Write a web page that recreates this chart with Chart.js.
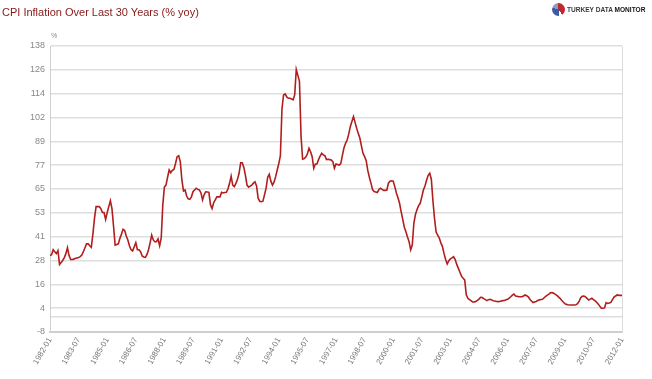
<!DOCTYPE html>
<html>
<head>
<meta charset="utf-8">
<script src="https://cdn.jsdelivr.net/npm/chart.js@4.4.1/dist/chart.umd.min.js"></script>
<style>
  html, body { margin: 0; padding: 0; background: #fff; }
  #wrap { position: relative; width: 652px; height: 379px; overflow: hidden; }
  #c { position: absolute; left: 0; top: 0; }
  #title { position: absolute; left: 2px; top: 6px; font-family: 'Liberation Sans', Arial, sans-serif; font-size: 11px; color: #861818; white-space: nowrap; }
  #pct { position: absolute; left: 51px; top: 32px; font-family: 'Liberation Sans', Arial, sans-serif; font-size: 7px; color: #888; }
  #logo { position: absolute; left: 552px; top: 3px; height: 14px; white-space: nowrap; }
  #logo .ic { position: absolute; left: 0; top: 0; width: 13px; height: 13px; border-radius: 50%;
    background: conic-gradient(#c0282d 0 40%, #ffffff 40% 48%, #3b5ba5 48% 80%, #8a9cc8 80% 100%); }
  #logo .tx { position: absolute; left: 15px; top: 2px; font-family: 'Liberation Sans', Arial, sans-serif; font-weight: bold; font-size: 8px; color: #3a3a3a; transform: scaleX(0.82); transform-origin: 0 0; }
  #logo .tx b { color: #111; }
</style>
</head>
<body>
<div id="wrap">
  <canvas id="c" width="652" height="379"></canvas>
  <div id="title">CPI Inflation Over Last 30 Years (% yoy)</div>
  <div id="pct">%</div>
  <div id="logo"><div class="ic"></div><div class="tx">TURKEY DATA <b>MONITOR</b></div></div>
</div>
<script>
// Monthly CPI inflation (% yoy)
const cpi1982to1991 = [
  31, 31.5, 34, 33, 32, 33.5, 26.5, 27.5, 28.5, 30, 32, 35,
  31, 29, 29, 29.2, 29.6, 29.8, 30, 30.5, 31.3, 33, 35, 37,
  37, 36, 35.2, 42, 50, 56, 56, 56, 55, 53, 53, 49.5,
  53, 56, 59, 55, 46, 36.4, 36.7, 37, 39.8, 42, 44.4, 43.8,
  41, 39, 36, 34, 33.4, 35.5, 37.6, 34, 34, 33, 30.8, 30.3,
  30.1, 31.5, 34, 37.5, 41.5, 39, 38.1, 38.1, 39.5, 36, 40, 57,
  66, 67, 71, 74.7, 73.3, 74.5, 75, 78, 81.5, 82, 79, 69.6,
  64, 64.5, 61.4, 60, 59.7, 61, 63.6, 64.5, 65.4, 64.8, 64.5, 63,
  59.4, 62, 63.6, 63.5, 63.3, 57, 55, 58, 59.4, 61, 61, 61,
  63.3, 63, 63.2, 63.3, 65, 67.9, 71.6, 67, 66.2, 67.9, 70, 73
];
const cpi1992to2001 = [
  78.4, 78.4, 76, 72, 67, 65.9, 66.5, 67, 68, 68.7, 66.6, 60.3,
  58.7, 58.5, 58.8, 62, 65.4, 71, 72.5, 69, 67, 68.5, 71.3, 74.7,
  78, 82, 106, 113, 113.5, 112, 111.3, 111.3, 111, 110.5, 113, 126,
  123, 120, 92, 80.2, 80.5, 81.3, 83, 85.8, 84, 81.5, 75.6, 77.8,
  77.8, 80, 81.8, 83.2, 82.4, 82, 80, 80.2, 80, 79.8, 79, 75.6,
  77.8, 77.5, 77.2, 78, 82, 86, 88.3, 90, 93, 96.8, 99.5, 102,
  99, 96, 93.4, 91, 87, 83.2, 81.5, 79.5, 74.5, 71, 68, 64.7,
  63.7, 63.5, 63.2, 64.7, 65.4, 64.8, 64.3, 64.3, 64.5, 68, 69, 69.2,
  69, 66.2, 63, 60.5, 57.7, 53.5, 49.5, 45.5, 43.2, 40.5, 38.1, 33.9,
  36.4, 47.5, 52, 54.5, 56.5, 57.7, 61, 64.5, 66.5, 69.5, 72, 73
];
const cpi2002to2012 = [
  70, 59, 50, 43, 41.5, 40, 37.5, 35.6, 32, 29, 26.7, 28.4,
  29.3, 29.8, 30.4, 29, 26.5, 24.5, 22.5, 20.5, 19.4, 18.6, 11, 9.2,
  8.5, 8, 7.3, 7.3, 7.6, 8.1, 8.8, 9.7, 9.6, 9, 8.5, 8,
  8.5, 8.7, 8.3, 8, 7.8, 7.6, 7.5, 7.6, 7.8, 8, 8.1, 8.4,
  8.7, 9.3, 10, 10.8, 11.4, 10.4, 10.2, 10, 10, 10, 10.4, 10.9,
  10.5, 10, 8.7, 7.8, 7, 7.3, 7.6, 8.1, 8.4, 8.6, 8.7, 9.5,
  10.2, 10.8, 11.3, 12, 12.1, 11.8, 11.2, 10.7, 9.9, 9.2, 8.2, 7.3,
  6.5, 6.1, 5.9, 5.8, 5.8, 5.8, 5.8, 5.9, 6.5, 7.6, 9.5, 10.3,
  10.4, 9.9, 9.2, 8.3, 8.8, 9.2, 8.5, 8, 7.2, 6.3, 5.2, 4.1,
  4.1, 4.3, 7, 6.6, 6.8, 7.1, 8.5, 9.8, 10.4, 10.9, 10.7, 10.7, 10.7
];
const xTickLabels = ['1982-01','1983-07','1985-01','1986-07','1988-01','1989-07','1991-01',
  '1992-07','1994-01','1995-07','1997-01','1998-07','2000-01','2001-07','2003-01','2004-07',
  '2006-01','2007-07','2009-01','2010-07','2012-01'];
const yTickLabels = ['-8','4','16','28','41','53','65','77','89','102','114','126','138'];
const yMin = -8, yMax = 138;

const values = cpi1982to1991.concat(cpi1992to2001, cpi2002to2012);
const months = [];
for (let k = 0; k < values.length; k++) {
  const y = 1982 + Math.floor(k / 12), m = (k % 12) + 1;
  months.push(y + '-' + (m < 10 ? '0' + m : m));
}
const yStep = (yMax - yMin) / (yTickLabels.length - 1);
const yTickValues = yTickLabels.map((_, k) => yMin + k * yStep);

const rightBorder = {
  id: 'rightBorder',
  afterDraw(chart) {
    const a = chart.chartArea, ctx = chart.ctx;
    ctx.save();
    ctx.strokeStyle = '#dcdcdc';
    ctx.lineWidth = 1;
    ctx.beginPath();
    ctx.moveTo(Math.round(a.right) + 0.5, a.top);
    ctx.lineTo(Math.round(a.right) + 0.5, a.bottom);
    ctx.stroke();
    ctx.restore();
  }
};

new Chart(document.getElementById('c'), {
  type: 'line',
  data: {
    labels: months,
    datasets: [{
      data: values,
      borderColor: '#b01e1e',
      borderWidth: 1.6,
      pointRadius: 0,
      pointHoverRadius: 0,
      tension: 0,
      fill: false
    }]
  },
  options: {
    responsive: false,
    animation: false,
    events: [],
    layout: { padding: { top: 46, right: 30, left: 0, bottom: 0 } },
    plugins: { legend: { display: false }, tooltip: { enabled: false }, title: { display: false } },
    scales: {
      x: {
        type: 'category',
        offset: false,
        grid: { display: false, drawTicks: false },
        border: { display: true, color: '#cfcfcf', width: 2 },
        afterFit(s) { s.height = 47; },
        ticks: {
          autoSkip: false,
          minRotation: 60,
          maxRotation: 60,
          padding: 4,
          color: '#777',
          font: { family: "'Liberation Sans', Arial, sans-serif", size: 8 },
          callback(val) {
            const l = this.getLabelForValue(val);
            return xTickLabels.includes(l) ? l : null;
          }
        }
      },
      y: {
        min: yMin,
        max: yMax,
        afterFit(s) { s.width = 50; },
        afterBuildTicks(s) {
          s.ticks = yTickValues.map(v => ({ value: v })).concat([{ value: 0 }]).sort((a, b) => a.value - b.value);
        },
        grid: { color: '#dedede', lineWidth: 1.5, drawTicks: false },
        border: { display: true, color: '#d0d0d0', width: 1 },
        ticks: {
          autoSkip: false,
          padding: 5,
          color: '#888',
          font: { family: "'Liberation Sans', Arial, sans-serif", size: 9 },
          callback(v) {
            const idx = yTickValues.findIndex(t => Math.abs(t - v) < 1e-6);
            return idx >= 0 ? yTickLabels[idx] : '';
          }
        }
      }
    }
  },
  plugins: [rightBorder]
});
</script>
</body>
</html>
